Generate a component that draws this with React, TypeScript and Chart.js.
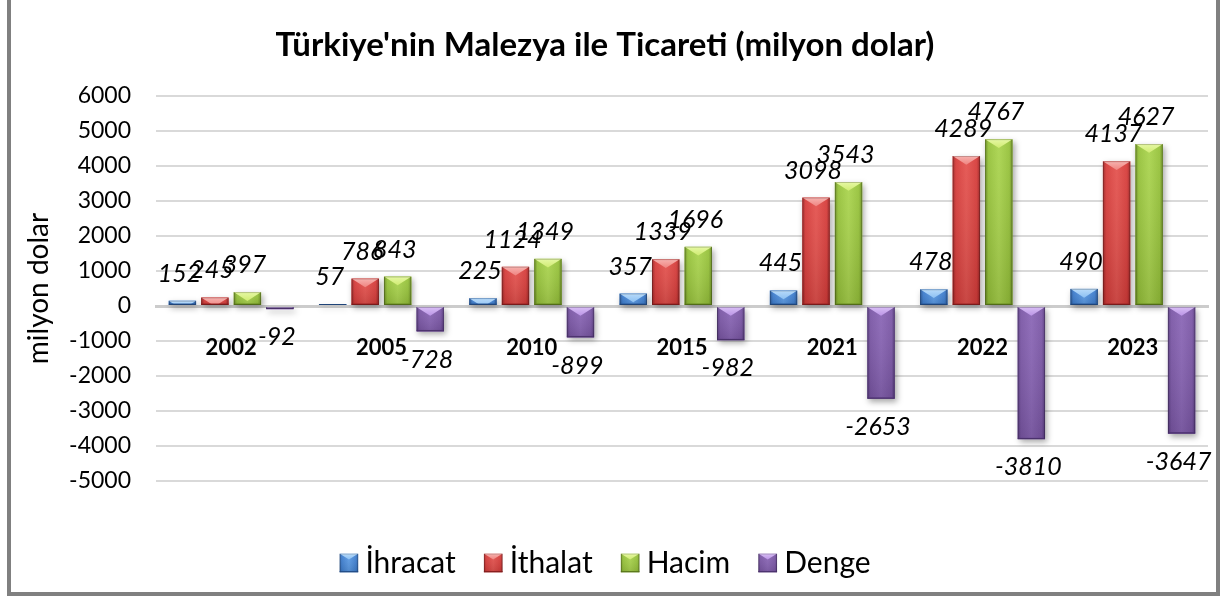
import React, { useEffect, useRef } from 'react';
import { Chart, registerables } from 'chart.js';

Chart.register(...registerables);

// ---- data ----
const categories = ['2002', '2005', '2010', '2015', '2021', '2022', '2023'];
const ihracat = [152, 57, 225, 357, 445, 478, 490];
const ithalat = [245, 786, 1124, 1339, 3098, 4289, 4137];
const hacim = [397, 843, 1349, 1696, 3543, 4767, 4627];
const denge = [-92, -728, -899, -982, -2653, -3810, -3647];
const seriesNames = ['İhracat', 'İthalat', 'Hacim', 'Denge'];
const titleText = "Türkiye'nin Malezya ile Ticareti (milyon dolar)";
const yAxisTitle = 'milyon dolar';
const yMin = -5000;
const yMax = 6000;
const yStep = 1000;

type Pal = { main: string; light: string; dark: string; top: string; topLight: string };
const palettes: Pal[] = [
  { main: '#3e7ecf', light: '#5b9be6', dark: '#28589a', top: '#8cc0f2', topLight: '#b9dbfa' },
  { main: '#d63c3a', light: '#e4524e', dark: '#9a2323', top: '#ef8480', topLight: '#f7b3b0' },
  { main: '#96c23a', light: '#aad44e', dark: '#688a20', top: '#cfeb72', topLight: '#e6f8a4' },
  { main: '#7b57a6', light: '#8a66b6', dark: '#573a7e', top: '#bb94e6', topLight: '#d8bff5' },
];

function drawBevel(ctx: CanvasRenderingContext2D, left: number, top: number, w: number, h: number, p: Pal) {
  if (w <= 0 || h <= 0) return;
  ctx.save();
  ctx.beginPath();
  ctx.rect(left, top, w, h);
  ctx.clip();
  const g = ctx.createLinearGradient(left, 0, left + w, 0);
  g.addColorStop(0, p.dark);
  g.addColorStop(0.12, p.main);
  g.addColorStop(0.5, p.light);
  g.addColorStop(0.88, p.main);
  g.addColorStop(1, p.dark);
  ctx.fillStyle = g;
  ctx.fillRect(left, top, w, h);
  const gv = ctx.createLinearGradient(0, top, 0, top + h);
  gv.addColorStop(0, 'rgba(255,255,255,0.06)');
  gv.addColorStop(1, 'rgba(0,0,0,0.12)');
  ctx.fillStyle = gv;
  ctx.fillRect(left, top, w, h);
  const th = w * 0.32;
  const tg = ctx.createLinearGradient(0, top, 0, top + th);
  tg.addColorStop(0, p.topLight);
  tg.addColorStop(1, p.top);
  ctx.beginPath();
  ctx.moveTo(left, top);
  ctx.lineTo(left + w, top);
  ctx.lineTo(left + w / 2, top + th);
  ctx.closePath();
  ctx.fillStyle = tg;
  ctx.fill();
  ctx.fillStyle = p.dark;
  ctx.fillRect(left, top + h - 1.5, w, 1.5);
  ctx.strokeStyle = 'rgba(0,0,0,0.22)';
  ctx.lineWidth = 1;
  ctx.strokeRect(left + 0.5, top + 0.5, w - 1, h - 1);
  ctx.restore();
}

const LEGEND_FONT = 30;
const LEGEND_BOX = 19;

const barStylePlugin = {
  id: 'barStyle',
  beforeDatasetsDraw(chart: any) {
    const ctx = chart.ctx;
    ctx.save();
    ctx.shadowColor = 'rgba(0,0,0,0.35)';
    ctx.shadowBlur = 6;
    ctx.shadowOffsetX = 2;
    ctx.shadowOffsetY = 3;
  },
  afterDatasetsDraw(chart: any) {
    const ctx = chart.ctx;
    ctx.restore();
    chart.data.datasets.forEach((ds: any, di: number) => {
      const meta = chart.getDatasetMeta(di);
      meta.data.forEach((bar: any) => {
        const { x, y, base, width } = bar.getProps(['x', 'y', 'base', 'width'], true);
        drawBevel(ctx, x - width / 2, Math.min(y, base), width, Math.abs(base - y), palettes[di]);
      });
    });
    ctx.save();
    ctx.font = 'italic 25px Lato';
    ctx.fillStyle = '#000';
    ctx.textAlign = 'center';
    ctx.textBaseline = 'middle';
    chart.data.datasets.forEach((ds: any, di: number) => {
      const meta = chart.getDatasetMeta(di);
      meta.data.forEach((bar: any, i: number) => {
        const v = ds.data[i];
        const { x, y } = bar.getProps(['x', 'y'], true);
        ctx.fillText(String(v), x - 3, v >= 0 ? y - 27 : y + 28);
      });
    });
    ctx.restore();
  },
  afterDraw(chart: any) {
    const legend = chart.legend;
    if (!legend || !legend.legendHitBoxes) return;
    const ctx = chart.ctx;
    legend.legendHitBoxes.forEach((hb: any, i: number) => {
      const y = hb.top + Math.max((LEGEND_FONT - LEGEND_BOX) / 2, 0);
      ctx.clearRect(hb.left - 1, y - 1, 14, LEGEND_BOX + 2);
      drawBevel(ctx, hb.left, y, LEGEND_BOX, LEGEND_BOX, palettes[i]);
    });
  },
};

export default function App() {
  const ref = useRef<HTMLCanvasElement>(null);
  useEffect(() => {
    let chart: Chart | null = null;
    let cancelled = false;
    const make = () => {
      if (cancelled || !ref.current) return;
      const seriesData = [ihracat, ithalat, hacim, denge];
      chart = new Chart(ref.current, {
        type: 'bar',
        data: {
          labels: categories,
          datasets: seriesNames.map((name, i) => ({
            label: name,
            data: seriesData[i],
            backgroundColor: palettes[i].main,
            borderWidth: 0,
            categoryPercentage: 0.865,
            barPercentage: 0.846,
          })),
        },
        options: {
          responsive: false,
          animation: false,
          devicePixelRatio: 1,
          layout: { padding: { left: 0, right: 10, top: 0, bottom: 12 } },
          plugins: {
            title: {
              display: true,
              text: titleText,
              color: '#000',
              font: { family: 'Lato', size: 33, weight: 'bold' },
              padding: { top: 25.2, bottom: 31.2 },
            },
            legend: {
              position: 'bottom',
              fullSize: true,
              labels: {
                color: '#000',
                font: { family: 'Lato', size: LEGEND_FONT },
                boxWidth: 11,
                boxHeight: LEGEND_BOX,
                padding: 28,
              },
              title: { display: true, text: '', padding: { top: 27, bottom: 0 }, font: { size: 10 } },
            },
            tooltip: { enabled: false },
          },
          scales: {
            x: {
              position: { y: 0 },
              grid: { display: false },
              border: { display: true, color: '#cccccc', width: 3 },
              ticks: {
                color: '#000',
                font: { family: 'Lato', size: 22, weight: 'bold' },
                padding: 21,
                maxRotation: 0,
                autoSkip: false,
              },
              afterFit: (s: any) => { s.height = 0; },
            },
            y: {
              min: yMin,
              max: yMax,
              ticks: {
                stepSize: yStep,
                color: '#000',
                font: { family: 'Lato', size: 23 },
                padding: 25,
                callback: (v: any) => String(v),
              },
              grid: { color: '#d9d9d9', lineWidth: 2, drawTicks: false },
              border: { display: false },
              title: {
                display: true,
                text: yAxisTitle,
                color: '#000',
                font: { family: 'Lato', size: 28 },
                padding: { top: 20.2, bottom: 0 },
              },
              afterFit: (s: any) => { s.width = 154; },
            },
          },
        } as any,
        plugins: [barStylePlugin],
      });
    };
    const fonts = ['bold 33px Lato', '23px Lato', 'italic 25px Lato', 'bold 22px Lato', '30px Lato', '28px Lato'];
    Promise.all(fonts.map((f) => (document as any).fonts.load(f))).then(make, make);
    return () => {
      cancelled = true;
      if (chart) chart.destroy();
    };
  }, []);
  return (
    <div style={{ position: 'absolute', left: 0, top: 0, width: 1223, height: 596, overflow: 'hidden', background: '#fff' }}>
      <canvas
        ref={ref}
        width={1216}
        height={600}
        style={{ position: 'absolute', left: 2, top: 0, width: 1216, height: 600 }}
      />
      <div
        style={{
          position: 'absolute',
          left: 7,
          top: -4,
          width: 1213,
          height: 600,
          border: '4px solid #808080',
          boxSizing: 'border-box',
          pointerEvents: 'none',
        }}
      />
    </div>
  );
}
